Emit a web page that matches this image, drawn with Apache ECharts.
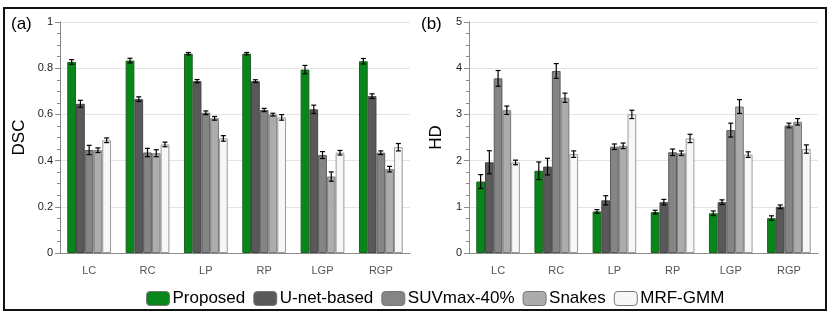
<!DOCTYPE html>
<html><head><meta charset="utf-8">
<script src="https://cdn.jsdelivr.net/npm/echarts@6/dist/echarts.min.js"></script>
<style>html,body{margin:0;padding:0;background:#fff}#c{width:830px;height:314px}</style>
</head><body><div id="c"></div>
<script>
const categories = ['LC','RC','LP','RP','LGP','RGP'];
const methods = ['Proposed','U-net-based','SUVmax-40%','Snakes','MRF-GMM'];
const colors = ['#07871a','#595959','#858585','#acacac','#f7f7f7'];
const borders = ['#1f5f22','#444444','#5a5a5a','#7a7a7a','#9a9a9a'];

// DSC (panel a)
const dscProposed = [0.827,0.833,0.863,0.863,0.794,0.830];
const dscUnet     = [0.646,0.666,0.744,0.744,0.622,0.679];
const dscSUV      = [0.446,0.435,0.607,0.619,0.424,0.434];
const dscSnakes   = [0.445,0.432,0.583,0.599,0.331,0.363];
const dscMRF      = [0.488,0.470,0.496,0.587,0.434,0.458];
const dscErrProposed = [0.010,0.010,0.005,0.005,0.018,0.012];
const dscErrUnet     = [0.015,0.010,0.007,0.006,0.018,0.010];
const dscErrSUV      = [0.020,0.018,0.008,0.007,0.015,0.008];
const dscErrSnakes   = [0.010,0.015,0.008,0.006,0.020,0.012];
const dscErrMRF      = [0.010,0.010,0.012,0.012,0.010,0.016];

// HD (panel b)
const hdProposed = [1.547,1.78,0.90,0.885,0.86,0.755];
const hdUnet     = [1.964,1.87,1.14,1.10,1.10,1.00];
const hdSUV      = [3.78,3.94,2.30,2.18,2.66,2.76];
const hdSnakes   = [3.09,3.36,2.32,2.16,3.17,2.84];
const hdMRF      = [1.96,2.14,3.00,2.48,2.13,2.25];
const hdErrProposed = [0.15,0.19,0.04,0.04,0.05,0.05];
const hdErrUnet     = [0.25,0.18,0.10,0.06,0.05,0.04];
const hdErrSUV      = [0.17,0.16,0.06,0.07,0.15,0.05];
const hdErrSnakes   = [0.09,0.10,0.06,0.05,0.15,0.07];
const hdErrMRF      = [0.05,0.07,0.09,0.09,0.06,0.09];

const dscVals = [dscProposed,dscUnet,dscSUV,dscSnakes,dscMRF];
const dscErrs = [dscErrProposed,dscErrUnet,dscErrSUV,dscErrSnakes,dscErrMRF];
const hdVals = [hdProposed,hdUnet,hdSUV,hdSnakes,hdMRF];
const hdErrs = [hdErrProposed,hdErrUnet,hdErrSUV,hdErrSnakes,hdErrMRF];

const FONT = 'Liberation Sans, Arial, Helvetica, sans-serif';
const catGap = 0.25;

function xAxisFor(gi){
  return {type:'category', gridIndex:gi, data:categories,
    axisLine:{lineStyle:{color:'#8a8a8a'}},
    axisTick:{alignWithLabel:true, length:5, lineStyle:{color:'#8a8a8a'}},
    axisLabel:{color:'#555', fontSize:11, margin:12, fontFamily:FONT}};
}
function yAxisFor(gi, max, interval, name){
  return {type:'value', gridIndex:gi, min:0, max:max, interval:interval,
    name:name, nameLocation:'middle', nameGap: gi===0?32:24,
    nameTextStyle:{fontSize:17, color:'#000', fontFamily:FONT},
    axisLine:{show:true, lineStyle:{color:'#8a8a8a'}},
    axisTick:{show:true, length:5, lineStyle:{color:'#8a8a8a'}},
    minorTick:{show:true, splitNumber:4, length:3, lineStyle:{color:'#8a8a8a'}},
    splitLine:{lineStyle:{color:'#e4e4e4'}},
    axisLabel:{color:'#222', fontSize:11, margin:7, fontFamily:FONT}};
}

const series = [];
function addPanel(gi, vals, errs){
  for(let i=0;i<5;i++){
    series.push({type:'bar', name:methods[i], xAxisIndex:gi, yAxisIndex:gi,
      data:vals[i], barGap:'0%', barCategoryGap:(catGap*100)+'%',
      itemStyle:{color:colors[i], borderColor:borders[i], borderWidth:1}, z:2});
  }
  for(let i=0;i<5;i++){
    const data = vals[i].map((v,k)=>[k, v, errs[i][k]]);
    series.push({type:'custom', xAxisIndex:gi, yAxisIndex:gi, z:5, silent:true,
      data:data,
      renderItem:function(params, api){
        const k = api.value(0), v = api.value(1), e = api.value(2);
        const band = api.size([1,0])[0];
        const bw = band*(1-catGap)/5;
        const c = api.coord([k, v]);
        const x = c[0] + (i-2)*bw;
        const yHi = api.coord([k, v+e])[1];
        const yLo = api.coord([k, v-e])[1];
        const cw = 2.5;
        const st = {stroke:'#000', lineWidth:1.2};
        return {type:'group', children:[
          {type:'line', shape:{x1:x,y1:yHi,x2:x,y2:yLo}, style:st},
          {type:'line', shape:{x1:x-cw,y1:yHi,x2:x+cw,y2:yHi}, style:st},
          {type:'line', shape:{x1:x-cw,y1:yLo,x2:x+cw,y2:yLo}, style:st}
        ]};
      }});
  }
}
addPanel(0, dscVals, dscErrs);
addPanel(1, hdVals, hdErrs);

const chart = echarts.init(document.getElementById('c'), null, {renderer:'canvas'});
chart.setOption({
  animation:false,
  backgroundColor:'#fff',
  textStyle:{fontFamily:FONT},
  grid:[{left:60, top:22, width:350, height:231},{left:469, top:22, width:349, height:231}],
  xAxis:[xAxisFor(0), xAxisFor(1)],
  yAxis:[yAxisFor(0,1,0.2,'DSC'), yAxisFor(1,5,1,'HD')],
  legend:{data:methods, left:141, top:285, itemWidth:23, itemHeight:14, itemGap:8,
    textStyle:{fontSize:17, color:'#000', fontFamily:FONT, padding:[0,0,0,-2]},
    itemStyle:{borderColor:'#777', borderWidth:1}},
  series:series,
  graphic:[
    {type:'rect', shape:{x:4, y:8, width:822, height:302}, style:{fill:'none', stroke:'#111', lineWidth:2}, z:100},
    {type:'text', left:11, top:16, style:{text:'(a)', fontSize:17, fill:'#000', fontFamily:FONT}},
    {type:'text', left:421, top:16, style:{text:'(b)', fontSize:17, fill:'#000', fontFamily:FONT}}
  ]
});
</script></body></html>
